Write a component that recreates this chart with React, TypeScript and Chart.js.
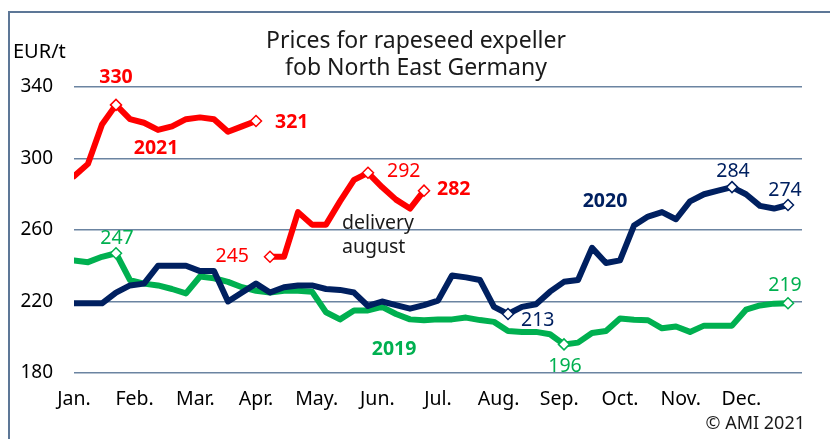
import React, { useEffect, useRef } from "react";
import { Chart, registerables } from "chart.js";

Chart.register(...registerables);

// ---- data ----
const monthLabels = ["Jan.", "Feb.", "Mar.", "Apr.", "May.", "Jun.", "Jul.", "Aug.", "Sep.", "Oct.", "Nov.", "Dec."];
const yTicks = [180, 220, 260, 300, 340];

// weekly prices, EUR/t (week index 0..51)
const red2021 = [290, 297, 319, 330, 322, 320, 316, 318, 322, 323, 322, 315, 318, 321]; // weeks 0..13
const red2021Aug = [245, 245, 270, 263, 263, 276, 288, 292, 284, 277, 272, 282]; // weeks 14..25
const navy2020 = [
  219, 219, 219, 225, 229, 230, 240, 240, 240, 237, 237, 220, 225,
  230, 225, 228, 229, 229, 227, 226.5, 225, 217.5, 220, 218, 216,
  218, 220.5, 234.5, 233.5, 232, 217, 213, 217, 218.5, 225.5, 231, 232, 250, 241.5,
  243, 262.5, 267.5, 270, 266, 276, 280, 282, 284, 280, 273.5, 272, 274,
];
const green2019 = [
  243, 242, 245, 247, 232, 230, 229, 227, 224.5, 234, 233, 231, 228,
  226, 225, 226, 226, 225.5, 214, 210, 215, 215, 217, 213, 210,
  209.5, 210, 210, 211, 209.6, 208.6, 203.5, 203, 203, 201.7, 196, 197, 202.4, 203.5,
  210.5, 209.8, 209.5, 205, 206, 203, 206.5, 206.5, 206.5, 215.4, 217.8, 218.8, 219,
];

const redStart = 0;
const redAugStart = 14;

// highlighted (diamond) week indices
const redMarks = [3, 13];
const redAugMarks = [14, 21, 25];
const navyMarks = [31, 47, 51];
const greenMarks = [3, 35, 51];

const RED = "#ff0000";
const NAVY = "#002060";
const GREEN = "#00b050";
const FONT = "'Noto Sans', 'DejaVu Sans', sans-serif";

const toPoints = (arr: number[], start: number) => arr.map((v, i) => ({ x: start + i, y: v }));

type Note = { text: string; wk: number; val: number; dx: number; dy: number; color: string; bold?: boolean; align?: CanvasTextAlign };

// labels anchored to data coordinates with pixel offsets
const notes: Note[] = [
  { text: "330", wk: 3, val: 330, dx: 0, dy: -27, color: RED, bold: true },
  { text: "321", wk: 13, val: 321, dx: 19, dy: 1, color: RED, bold: true, align: "left" },
  { text: "245", wk: 14, val: 245, dx: -21, dy: 0, color: RED, align: "right" },
  { text: "292", wk: 21, val: 292, dx: 19, dy: -1, color: RED, align: "left" },
  { text: "282", wk: 25, val: 282, dx: 13, dy: -1, color: RED, bold: true, align: "left" },
  { text: "2021", wk: 5.86, val: 305.9, dx: 0, dy: 0, color: RED, bold: true },
  { text: "247", wk: 3, val: 247, dx: 1, dy: -15, color: GREEN },
  { text: "196", wk: 35, val: 196, dx: 1, dy: 22, color: GREEN },
  { text: "219", wk: 51, val: 219, dx: -3, dy: -18, color: GREEN },
  { text: "2019", wk: 22.86, val: 193.4, dx: 0, dy: 0, color: GREEN, bold: true },
  { text: "213", wk: 31, val: 213, dx: 13, dy: 6, color: NAVY, align: "left" },
  { text: "284", wk: 47, val: 284, dx: 1, dy: -16, color: NAVY },
  { text: "274", wk: 51, val: 274, dx: -3, dy: -15, color: NAVY },
  { text: "2020", wk: 37.93, val: 275.7, dx: 0, dy: 0, color: NAVY, bold: true },
  { text: "delivery", wk: 19.14, val: 263.4, dx: 0, dy: 0, color: "#1a1a1a", align: "left" },
  { text: "august", wk: 19.14, val: 250.5, dx: 0, dy: 0, color: "#1a1a1a", align: "left" },
];

const decorPlugin = {
  id: "decor",
  beforeDraw(chart: any) {
    const ctx = chart.ctx;
    ctx.save();
    ctx.fillStyle = "#ffffff";
    ctx.fillRect(0, 0, chart.width, chart.height);
    ctx.strokeStyle = "#5d7797";
    ctx.lineWidth = 2;
    ctx.beginPath();
    ctx.moveTo(9, chart.height);
    ctx.lineTo(9, 12);
    ctx.lineTo(chart.width, 12);
    ctx.stroke();
    ctx.restore();
  },
  afterDraw(chart: any) {
    const ctx = chart.ctx;
    const xs = chart.scales.x;
    const ys = chart.scales.y;
    ctx.save();
    ctx.textBaseline = "middle";
    // title
    ctx.fillStyle = "#1a1a1a";
    ctx.textAlign = "center";
    ctx.font = `23px ${FONT}`;
    ctx.fillText("Prices for rapeseed expeller", 416, 41);
    ctx.fillText("fob North East Germany", 416, 68);
    // unit
    ctx.textAlign = "left";
    ctx.font = `20px ${FONT}`;
    ctx.fillStyle = "#000";
    ctx.fillText("EUR/t", 13, 52);
    // copyright
    ctx.textAlign = "right";
    ctx.fillStyle = "#1a1a1a";
    ctx.font = `18px ${FONT}`;
    ctx.fillText("© AMI 2021", 805, 424);
    // notes
    for (const n of notes) {
      ctx.font = `${n.bold ? "bold " : ""}19.5px ${FONT}`;
      ctx.fillStyle = n.color;
      ctx.textAlign = n.align || "center";
      ctx.fillText(n.text, xs.getPixelForValue(n.wk) + n.dx, ys.getPixelForValue(n.val) + n.dy);
    }
    ctx.restore();
  },
};

function lineDs(label: string, data: { x: number; y: number }[], color: string, marks: number[], start: number) {
  return {
    label,
    data,
    borderColor: color,
    borderWidth: 6,
    borderJoinStyle: "round" as const,
    borderCapStyle: "round" as const,
    tension: 0,
    pointStyle: "rectRot" as const,
    pointRadius: (c: any) => (marks.includes(start + c.dataIndex) ? 5.5 : 0),
    pointBackgroundColor: "#ffffff",
    pointBorderColor: color,
    pointBorderWidth: 1.5,
    pointHoverRadius: 0,
  };
}

export default function App() {
  const ref = useRef<HTMLCanvasElement | null>(null);
  useEffect(() => {
    if (!ref.current) return;
    const chart = new Chart(ref.current, {
      type: "line",
      data: {
        datasets: [
          lineDs("2021", toPoints(red2021, redStart), RED, redMarks, redStart),
          lineDs("2021 delivery august", toPoints(red2021Aug, redAugStart), RED, redAugMarks, redAugStart),
          lineDs("2020", toPoints(navy2020, 0), NAVY, navyMarks, 0),
          lineDs("2019", toPoints(green2019, 0), GREEN, greenMarks, 0),
        ],
      },
      options: {
        responsive: false,
        animation: false,
        layout: { padding: { left: 0, right: 28, top: 87, bottom: 0 } },
        plugins: { legend: { display: false }, tooltip: { enabled: false }, title: { display: false } },
        scales: {
          x: {
            type: "linear",
            min: 0,
            max: 52,
            grid: { display: false, drawTicks: false },
            border: { display: false },
            afterBuildTicks: (scale: any) => {
              scale.ticks = monthLabels.map((_, i) => ({ value: (i * 52) / 12 }));
            },
            afterFit: (scale: any) => {
              scale.height = 439 - 373;
            },
            ticks: {
              autoSkip: false,
              maxRotation: 0,
              padding: 15,
              color: "#000",
              font: { family: FONT, size: 19.5 },
              callback: (_v: any, i: number) => monthLabels[i],
            },
          },
          y: {
            min: 180,
            max: 340,
            afterBuildTicks: (scale: any) => {
              scale.ticks = yTicks.map((v) => ({ value: v }));
            },
            afterFit: (scale: any) => {
              scale.width = 74;
            },
            grid: { color: "#6b84a1", lineWidth: 1.5, drawTicks: false },
            border: { display: false },
            ticks: {
              padding: 21,
              color: "#000",
              font: { family: FONT, size: 19 },
            },
          },
        },
      },
      plugins: [decorPlugin],
    });
    return () => chart.destroy();
  }, []);
  return (
    <div style={{ position: "fixed", left: 0, top: 0, width: 830, height: 439, background: "#fff" }}>
      <canvas ref={ref} width={830} height={439} style={{ display: "block" }} />
    </div>
  );
}
